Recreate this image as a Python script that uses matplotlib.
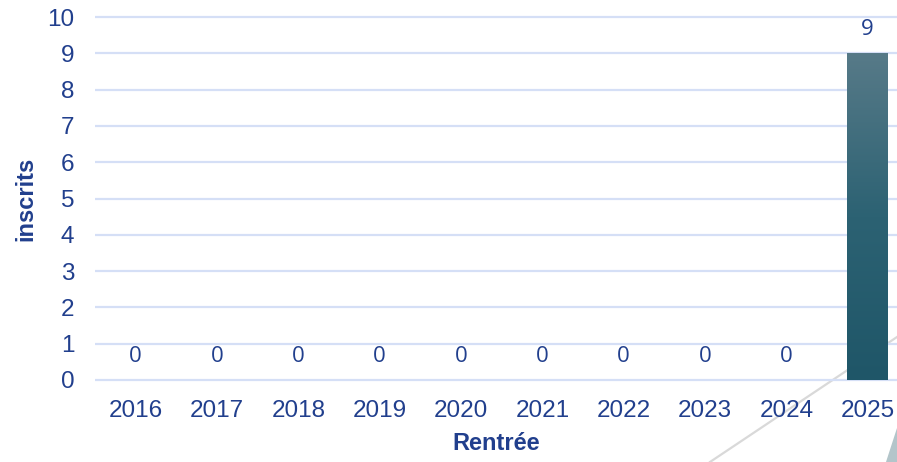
import matplotlib.pyplot as plt
import numpy as np
from matplotlib.lines import Line2D
from matplotlib.patches import Polygon
from matplotlib.colors import LinearSegmentedColormap

# Data
years = ['2016', '2017', '2018', '2019', '2020', '2021', '2022', '2023', '2024', '2025']
inscrits = [0, 0, 0, 0, 0, 0, 0, 0, 0, 9]

text_color = '#213F8D'
grid_color = '#D5DFF6'

plt.rcParams['font.family'] = ['Liberation Sans', 'DejaVu Sans']

W, H = 897, 462
fig = plt.figure(figsize=(W / 100, H / 100), dpi=100)

# Slide decoration in the lower right corner (behind the chart)
fig.add_artist(Line2D([710 / W, 1.0], [0, (H - 337) / H], transform=fig.transFigure,
                      color='#D9D9D9', lw=1.6, zorder=0))
fig.add_artist(Polygon([(886 / W, 0), (1.0, (H - 428) / H), (1.0, 0)], closed=True,
                       transform=fig.transFigure, facecolor='#B3C5CA', edgecolor='none', zorder=0))

# Axes placement: y=0 at pixel 380, y=10 at pixel 17
unit = (380 - 17) / 10.0
ymin, ymax = -0.05, 10.05
bottom_px = 380 + (0 - ymin) * unit
top_px = 17 - (ymax - 10) * unit
ax = fig.add_axes([95 / W, (H - bottom_px) / H, 1 - 95 / W, (bottom_px - top_px) / H])
ax.patch.set_alpha(0)

x = np.arange(len(years))
bar_width = 0.5
bars = ax.bar(x, inscrits, width=bar_width, color='none', edgecolor='none', zorder=2)

# Vertical gradient fill for the bars
grad = np.linspace(0, 1, 256).reshape(-1, 1)
cmap = LinearSegmentedColormap.from_list('bar', ['#1F5668', '#2C6273', '#577A88'])
for rect, val in zip(bars, inscrits):
    if val <= 0:
        continue
    x0 = rect.get_x()
    im = ax.imshow(grad, cmap=cmap, origin='lower', aspect='auto',
                   extent=[x0, x0 + rect.get_width(), 0, val], zorder=2)
    im.set_clip_path(rect)

# Value labels
for xi, val in zip(x, inscrits):
    ax.annotate(str(val), xy=(xi, val), xytext=(0, 24), textcoords='offset pixels',
                ha='center', va='center', fontsize=16, color=text_color,
                family=['Open Sans', 'DejaVu Sans'], zorder=3)

ax.set_xlim(-0.5, 9.36)
ax.set_ylim(ymin, ymax)
ax.set_yticks(range(0, 11))
ax.set_xticks(x)
ax.set_xticklabels(years)
ax.tick_params(axis='both', length=0, labelsize=17.5, labelcolor=text_color)
ax.tick_params(axis='x', pad=13)
ax.tick_params(axis='y', pad=15)
ax.grid(axis='y', color=grid_color, linewidth=1.6, zorder=0)
ax.set_axisbelow(True)
for s in ax.spines.values():
    s.set_visible(False)

ax.set_xlabel('Rentrée', fontsize=17, fontweight='bold', color=text_color, labelpad=7)
ax.set_ylabel('inscrits', fontsize=17, fontweight='bold', color=text_color, labelpad=7)

plt.savefig('out.png', dpi=100)
